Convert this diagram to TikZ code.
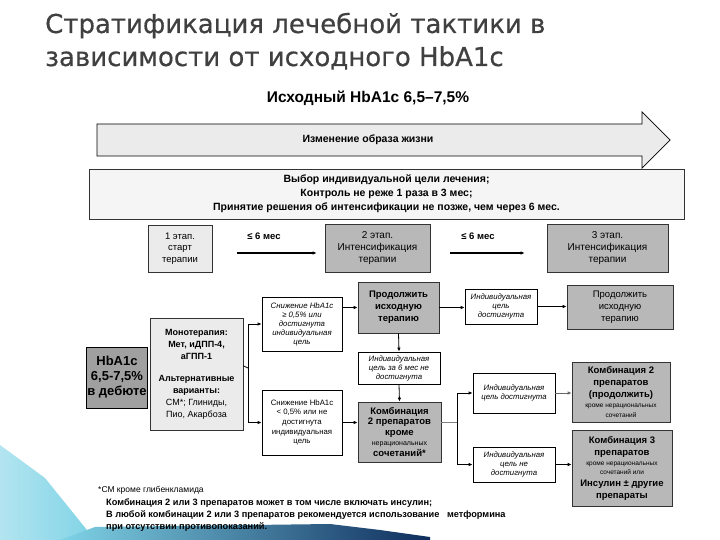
\documentclass[tikz,border=0pt]{standalone}
\usepackage{fontspec}
\setmainfont{Liberation Sans}
\newfontfamily\titlefont[FakeBold=0.5]{DejaVu Sans}
\usetikzlibrary{arrows.meta}
\definecolor{lightfill}{HTML}{EBEBEB}
\definecolor{midfill}{HTML}{B8B8B8}
\definecolor{darkfill}{HTML}{A0A0A0}
\definecolor{titlegray}{HTML}{404040}
\definecolor{bandA}{HTML}{7FD3E6}
\definecolor{bandB}{HTML}{0E2D5C}
\begin{document}
\begin{tikzpicture}[x=1pt,y=-1pt,
  every node/.style={inner sep=1pt,align=center},
  wbox/.style={draw=black,line width=0.7pt,fill=white,font=\fontsize{7.8}{9}\selectfont\itshape},
  gbox/.style={draw=black!80,line width=0.6pt,fill=midfill,font=\bfseries\fontsize{9.5}{12}\selectfont},
  lbox/.style={draw=black!80,line width=0.6pt,fill=lightfill},
  arr/.style={-{Latex[length=4pt,width=3.5pt]},line width=0.8pt},
  thin/.style={line width=0.8pt}]
\useasboundingbox (0,0) rectangle (720,540);
\fill[white] (0,0) rectangle (720,540);
% decoration
\shade[left color=bandA!60, right color=bandA] (0,445) -- (45,478) -- (95,540) -- (0,540) -- cycle;
\shade[left color=bandA, right color=bandB] (60,540) -- (95,527) -- (330,524) -- (380,530) -- (430,537) -- (430,540) -- cycle;
% title
\node[text=titlegray,font=\titlefont\fontsize{26}{30}\selectfont,anchor=base west,inner sep=0] (t1) at (45,33) {Стратификация лечебной тактики в};
\node[text=titlegray,font=\titlefont\fontsize{26}{30}\selectfont,anchor=base west,inner sep=0] (t2) at (45,66) {зависимости от исходного HbA1c};
% header
\node[font=\bfseries\fontsize{15.5}{17}\selectfont] (hdr) at (368,98) {Исходный HbA1c 6,5–7,5\%};
% big arrow
\draw[line width=0.7pt,fill=lightfill] (97,124) -- (642,124) -- (642,112) -- (670,140) -- (642,168) -- (642,156) -- (97,156) -- cycle;
\node[font=\bfseries\fontsize{10.5}{12}\selectfont] (life) at (368,140) {Изменение образа жизни};
% choice box
\node[draw=black!80,line width=0.6pt,fill=black!4,minimum width=595pt,minimum height=50pt,font=\bfseries\fontsize{10.5}{14}\selectfont] (vyb) at (386.5,194) {Выбор индивидуальной цели лечения;\\Контроль не реже 1 раза в 3 мес;\\Принятие решения об интенсификации не позже, чем через 6 мес.};
% stages
\node[lbox,minimum width=64pt,minimum height=47pt,font=\fontsize{9.5}{11.5}\selectfont] (st1) at (180,248.5) {1 этап.\\старт\\терапии};
\node[draw=black!80,line width=0.6pt,fill=midfill,minimum width=105pt,minimum height=48pt,font=\fontsize{10}{12}\selectfont] (st2) at (377.5,248) {2 этап.\\Интенсификация\\терапии};
\node[draw=black!80,line width=0.6pt,fill=midfill,minimum width=121pt,minimum height=48pt,font=\fontsize{10}{12}\selectfont] (st3) at (607.5,248) {3 этап.\\Интенсификация\\терапии};
\draw[arr,line width=1.2pt,shorten <=25pt,shorten >=8pt] ([yshift=-4.5pt]st1.east) -- ([yshift=-4.5pt]st1.east -| st2.west);
\draw[arr,line width=1.2pt,shorten <=20pt,shorten >=22pt] ([yshift=-5pt]st2.east) -- ([yshift=-5pt]st2.east -| st3.west);
\node[font=\bfseries\fontsize{9.5}{10}\selectfont] (m1) at (264,236) {≤ 6 мес};
\node[font=\bfseries\fontsize{9.5}{10}\selectfont] (m2) at (478,236) {≤ 6 мес};
% left column
\node[draw=black,line width=0.6pt,fill=darkfill,minimum width=58pt,minimum height=61pt,font=\bfseries\fontsize{13}{15}\selectfont] (hb) at (117,377.5) {HbA1c\\6,5-7,5\%\\в дебюте};
\draw[thin] ([xshift=2.5pt]hb.north east) -- ([xshift=2.5pt]hb.south east);
\node[lbox,minimum width=93pt,minimum height=112pt,font=\fontsize{9}{12}\selectfont,anchor=north] (mono) at (196.5,318) {\textbf{Монотерапия:}\\\textbf{Мет, иДПП-4,}\\\textbf{аГПП-1}\\[10pt]\textbf{Альтернативные}\\\textbf{варианты:}\\СМ*; Глиниды,\\Пио, Акарбоза};
% second column
\node[wbox,minimum width=80pt,minimum height=54pt] (s1) at (302,324) {Снижение HbA1c\\≥ 0,5\% или\\достигнута\\индивидуальная\\цель};
\node[wbox,minimum width=80pt,minimum height=65pt,font=\fontsize{7.8}{9.6}\selectfont] (s2) at (302,422.5) {Снижение HbA1c\\< 0,5\% или не\\достигнута\\индивидуальная\\цель};
\coordinate (br1) at (248,368);
\draw[thin] ([yshift=8.5pt]mono.east) -- (br1);
\draw[arr] (br1) |- (s1.west);
\draw[arr] (br1) |- (s2.west);
% third column
\node[gbox,minimum width=81pt,minimum height=51pt] (prod1) at (398.5,307.5) {Продолжить\\исходную\\терапию};
\node[wbox,minimum width=82pt,minimum height=32pt] (ind6) at (399,368) {Индивидуальная\\цель за 6 мес не\\достигнута};
\node[gbox,minimum width=83pt,minimum height=60pt,font=\bfseries\fontsize{9.5}{10.5}\selectfont] (comb2) at (399.5,432) {Комбинация\\2 препаратов\\кроме\\{\mdseries\fontsize{7}{9}\selectfont нерациональных}\\сочетаний*};
\draw[arr] (s1.east |- prod1.west) -- (prod1.west);
\draw[arr] (prod1.south) -- (ind6.north);
\draw[arr] (ind6.south) -- (comb2.north);
\draw[arr] (s2.east) -- (s2.east -| comb2.west);
% fourth column
\node[wbox,minimum width=72pt,minimum height=35pt] (goal1) at (501,306.5) {Индивидуальная\\цель\\достигнута};
\node[wbox,minimum width=82pt,minimum height=40pt] (goal2) at (514,393) {Индивидуальная\\цель достигнута};
\node[wbox,minimum width=82pt,minimum height=35pt] (nogoal) at (514,464.5) {Индивидуальная\\цель не\\достигнута};
\draw[arr] (prod1.east) -- (prod1.east -| goal1.west);
\coordinate (br2) at (457,422);
\draw[thin,black!50] ([yshift=10pt]comb2.east) -- (br2);
\draw[arr] (br2) |- (goal2.west);
\draw[arr] (br2) |- (nogoal.west);
% fifth column
\node[draw=black!80,line width=0.6pt,fill=midfill,minimum width=106pt,minimum height=44pt,font=\fontsize{9.5}{12}\selectfont] (prod2) at (620,307) {Продолжить\\исходную\\терапию};
\node[gbox,minimum width=98pt,minimum height=60pt,font=\bfseries\fontsize{9.5}{12}\selectfont] (comb2c) at (621,392) {Комбинация 2\\препаратов\\(продолжить)\\[-2pt]{\mdseries\fontsize{6.5}{8}\selectfont кроме нерациональных}\\[-2pt]{\mdseries\fontsize{6.5}{8}\selectfont сочетаний}};
\node[gbox,minimum width=100pt,minimum height=76pt,font=\bfseries\fontsize{9.5}{12}\selectfont] (comb3) at (622,468) {Комбинация 3\\препаратов\\[-2pt]{\mdseries\fontsize{6.5}{8}\selectfont кроме нерациональных}\\[-3pt]{\mdseries\fontsize{6.5}{8}\selectfont сочетаний или}\\Инсулин ± другие\\препараты};
\draw[arr] (goal1.east) -- (goal1.east -| prod2.west);
\draw[arr,black!60] (goal2.east) -- (goal2.east -| comb2c.west);
\draw[arr] (nogoal.east) -- (nogoal.east -| comb3.west);
% notes
\node[anchor=base west,font=\fontsize{8.5}{10}\selectfont,inner sep=0] (n1) at (98,492) {*СМ кроме глибенкламида};
\node[anchor=base west,font=\bfseries\fontsize{9.2}{10}\selectfont,inner sep=0] (n2) at (106,505) {Комбинация 2 или 3 препаратов может в том числе включать инсулин;};
\node[anchor=base west,font=\bfseries\fontsize{9.2}{10}\selectfont,inner sep=0] (n3) at (106,517) {В любой комбинации 2 или 3 препаратов рекомендуется использование \ \ метформина};
\node[anchor=base west,font=\bfseries\fontsize{9.2}{10}\selectfont,inner sep=0] (n4) at (106,529) {при отсутствии противопоказаний.};
\end{tikzpicture}
\end{document}
